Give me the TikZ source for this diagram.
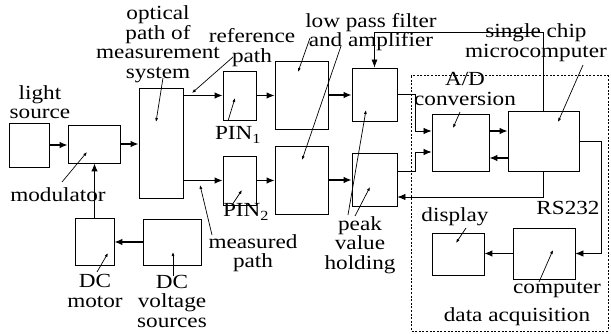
\documentclass[tikz,border=0pt]{standalone}
\usepackage{fontspec}
\setmainfont[FakeStretch=1.16]{Liberation Serif}
\usetikzlibrary{arrows.meta,calc}
\begin{document}
\begin{tikzpicture}[x=1pt,y=-1pt,
  box/.style={draw,line width=0.9pt,inner sep=0pt},
  conn/.style={line width=1.1pt,-{Latex[length=8pt,width=6.5pt]}},
  thinconn/.style={line width=0.8pt,-{Latex[length=8pt,width=6.5pt]}},
  ptr/.style={line width=0.7pt,-{Latex[length=4pt,width=3pt]}},
  lbl/.style={align=center,inner sep=0pt,font=\fontsize{20}{19.5}\selectfont}]
\useasboundingbox (0,0) rectangle (611,334);
% dotted frame
\draw[line width=1pt,dash pattern=on 2pt off 1.6pt] (411,76) rectangle (608,331);
% boxes
\node[box,minimum width=40pt,minimum height=44pt] (ls) at (29,145) {};
\node[box,minimum width=52pt,minimum height=38pt] (mod) at (94,144) {};
\node[box,minimum width=44pt,minimum height=110pt] (opt) at (161,143) {};
\node[box,minimum width=33pt,minimum height=49pt] (pin1) at (239.5,95.5) {};
\node[box,minimum width=33pt,minimum height=49pt] (pin2) at (239.5,180.5) {};
\node[box,minimum width=53pt,minimum height=68pt] (lpf1) at (301.5,95) {};
\node[box,minimum width=53pt,minimum height=68pt] (lpf2) at (301.5,180) {};
\node[box,minimum width=45pt,minimum height=53pt] (pk1) at (374.5,94.5) {};
\node[box,minimum width=45pt,minimum height=53pt] (pk2) at (374.5,179.5) {};
\node[box,minimum width=57pt,minimum height=57pt] (ad) at (460.5,142.5) {};
\node[box,minimum width=71pt,minimum height=60pt] (mc) at (543.5,141) {};
\node[box,minimum width=62pt,minimum height=51pt] (cmp) at (544,253.5) {};
\node[box,minimum width=52pt,minimum height=42pt] (disp) at (458,254) {};
\node[box,minimum width=39pt,minimum height=47pt] (dcm) at (94.5,241.5) {};
\node[box,minimum width=58pt,minimum height=46pt] (dcv) at (172,242) {};
% connectors
\draw[conn] (ls.east) -- (ls.east -| mod.west);
\draw[conn] (mod.east) -- (mod.east -| opt.west);
\draw[conn] (opt.east |- pin1.west) -- (pin1.west);
\draw[conn] (opt.east |- pin2.west) -- (pin2.west);
\draw[conn] (pin1.east) -- (pin1.east -| lpf1.west);
\draw[conn] (pin2.east) -- (pin2.east -| lpf2.west);
\draw[conn] (lpf1.east) -- (lpf1.east -| pk1.west);
\draw[conn] (lpf2.east) -- (lpf2.east -| pk2.west);
\coordinate (bus) at (415,0);
\draw[thinconn] (pk1.east) -- (pk1.east -| bus) |- ([yshift=11.5pt]ad.west);
\draw[thinconn] ([yshift=8.5pt]pk2.east) -- ([yshift=8.5pt]pk2.east -| bus) |- ([yshift=-9.5pt]ad.west);
\draw[conn] ([yshift=11.5pt]ad.east) -- ([yshift=11.5pt]ad.east -| mc.west);
\draw[conn] ([yshift=-17pt]mc.west) -- ([yshift=-17pt]mc.west -| ad.east);
\draw[thinconn] (mc.south) |- ([yshift=-17.5pt]pk2.east);
\coordinate (rsc) at (601,253.5);
\draw[thinconn] (mc.east) -| (rsc) -- (cmp.east);
\draw[conn] (cmp.west) -- (cmp.west -| disp.east);
\draw[conn] (dcv.west) -- (dcv.west -| dcm.east);
\draw[conn] (dcm.north) -- (dcm.north |- mod.south);
\coordinate (ctl) at (0,32);
\draw[line width=0.6pt,-{Latex[length=8pt,width=6pt]}] (mc.north) |- (pk1.north |- ctl) -- (pk1.north);
% labels
\node[lbl] (tls) at (40,102) {light\\source};
\node[lbl] (tmod) at (58,195) {modulator};
\node[lbl] (topt) at (158,44) {optical\\path of\\measurement\\system};
\node[lbl] (tref) at (252,47.5) {reference\\path};
\node[lbl] (tpin1) at (238,135) {PIN\textsubscript{1}};
\node[lbl] (tpin2) at (246,212) {PIN\textsubscript{2}};
\node[lbl] (tmeas) at (253,253) {measured\\path};
\node[lbl] (tlpf) at (371,32) {low pass filter\\and amplifier};
\node[lbl] (tpk) at (360,245) {peak\\value\\holding};
\node[lbl] (tad) at (465,89) {A/D\\conversion};
\node[lbl] (tmc) at (536,42.5) {single chip\\microcomputer};
\node[lbl] (trs) at (568,208) {RS232};
\node[lbl] (tdisp) at (455,217) {display};
\node[lbl] (tcmp) at (557,290) {computer};
\node[lbl] (tdaq) at (517,317) {data acquisition};
\node[lbl] (tdcm) at (95,291) {DC\\motor};
\node[lbl] (tdcv) at (172,301) {DC\\voltage\\sources};
% pointer lines
\coordinate (a1) at (62,182);  \coordinate (b1) at (87,152);
\coordinate (a2) at (163,78);  \coordinate (b2) at (156,122);
\coordinate (a3) at (233,57);  \coordinate (b3) at (192,93);
\coordinate (a4) at (228,121); \coordinate (b4) at (235,98);
\coordinate (a5) at (232,205); \coordinate (b5) at (242,190);
\coordinate (a6) at (212,235); \coordinate (b6) at (200,185);
\coordinate (a7) at (310,38);  \coordinate (b7) at (298,72);
\coordinate (a8) at (341,46);  \coordinate (b8) at (302,160);
\coordinate (a9) at (348,215); \coordinate (b9) at (366,110);
\coordinate (a10) at (355,216); \coordinate (b10) at (370,187);
\coordinate (a11) at (460,112); \coordinate (b11) at (453,128);
\coordinate (a12) at (583,65);  \coordinate (b12) at (558,122);
\coordinate (a13) at (466,228); \coordinate (b13) at (456,243);
\coordinate (a14) at (539,282); \coordinate (b14) at (553,250);
\coordinate (a15) at (97,272);  \coordinate (b15) at (108,253);
\coordinate (a16) at (173,276); \coordinate (b16) at (173,252);
\foreach \i in {1,...,16} {\draw[ptr] (a\i) -- (b\i);}
\end{tikzpicture}
\end{document}
